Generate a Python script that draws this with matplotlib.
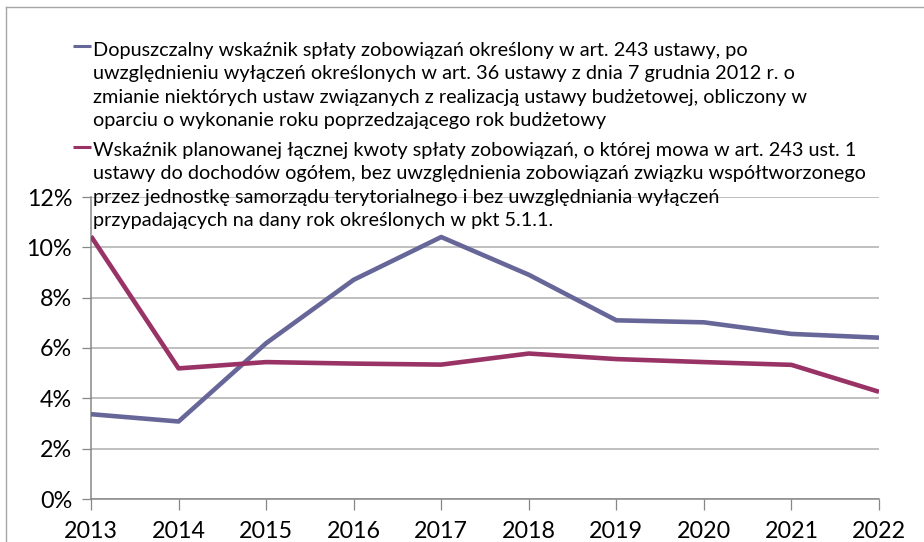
import matplotlib
matplotlib.use('Agg')
import matplotlib.pyplot as plt
from matplotlib.lines import Line2D
from matplotlib.ticker import FuncFormatter, MultipleLocator

# ---- data ----
years = [2013, 2014, 2015, 2016, 2017, 2018, 2019, 2020, 2021, 2022]
limit_pct = [3.37, 3.08, 6.19, 8.71, 10.41, 8.91, 7.10, 7.02, 6.56, 6.41]
planned_pct = [10.44, 5.19, 5.44, 5.38, 5.34, 5.78, 5.56, 5.44, 5.33, 4.26]

legend1_lines = [
    "Dopuszczalny wskaźnik spłaty zobowiązań określony w art. 243 ustawy, po",
    "uwzględnieniu wyłączeń określonych w art. 36 ustawy z dnia 7 grudnia 2012 r. o",
    "zmianie niektórych ustaw związanych z realizacją ustawy budżetowej, obliczony w",
    "oparciu o wykonanie roku poprzedzającego rok budżetowy",
]
legend2_lines = [
    "Wskaźnik planowanej łącznej kwoty spłaty zobowiązań, o której mowa w art. 243 ust. 1",
    "ustawy do dochodów ogółem, bez uwzględnienia zobowiązań związku współtworzonego",
    "przez jednostkę samorządu terytorialnego i bez uwzględniania wyłączeń",
    "przypadających na dany rok określonych w pkt 5.1.1.",
]

color_limit = "#666699"
color_planned = "#993366"

plt.rcParams['font.family'] = ['Lato', 'DejaVu Sans']

W, H = 924, 542
fig = plt.figure(figsize=(W / 100, H / 100), dpi=100)
fig.patch.set_facecolor('white')


def fx(x):
    return x / W


def fy(y):
    return 1 - y / H


renderer = fig.canvas.get_renderer()


def fit_size(text, target_px, base=10):
    t = fig.text(0, 0, text, fontsize=base)
    w = t.get_window_extent(renderer).width
    t.remove()
    return base * target_px / w


legend_fs = fit_size(legend2_lines[0], 766)
tick_fs = fit_size("2013", 54)

# outer chart frame (left and top edges visible)
fig.add_artist(Line2D([fx(6), fx(6)], [fy(7), 0], transform=fig.transFigure,
                      color="#A6A6A6", lw=1.0))
fig.add_artist(Line2D([fx(6), 1], [fy(7), fy(7)], transform=fig.transFigure,
                      color="#A6A6A6", lw=1.0))

ax = fig.add_axes([fx(91), fy(499), (879 - 91) / W, (499 - 197) / H])
ax.plot(years, limit_pct, color=color_limit, lw=3.3, solid_capstyle='butt', zorder=3)
ax.plot(years, planned_pct, color=color_planned, lw=3.3, solid_capstyle='butt', zorder=3)

ax.set_xlim(2013, 2022)
ax.set_ylim(0, 12)
ax.set_xticks(years)
ax.set_xticklabels([str(y) for y in years])
ax.yaxis.set_major_locator(MultipleLocator(2))
ax.yaxis.set_major_formatter(FuncFormatter(lambda v, p: f"{int(round(v))}%"))
ax.grid(axis='y', color="#ADADAD", lw=1.1)
ax.set_axisbelow(True)
for s in ['top', 'right']:
    ax.spines[s].set_visible(False)
for s in ['left', 'bottom']:
    ax.spines[s].set_color("#878787")
    ax.spines[s].set_linewidth(1.1)
ax.tick_params(axis='y', length=6.5, width=0.9, color="#878787", pad=7,
               labelsize=tick_fs, labelcolor='black')
ax.tick_params(axis='x', length=8, width=0.9, color="#878787", pad=8,
               labelsize=tick_fs, labelcolor='black')
ax.set_facecolor('none')

# legend (manual, handle aligned with first line)
baselines1 = [56, 79.4, 102.8, 126.2]
baselines2 = [156, 179.4, 202.8, 226.2]
for lines, bls, col, hy in [(legend1_lines, baselines1, color_limit, 45.7),
                            (legend2_lines, baselines2, color_planned, 147.3)]:
    fig.add_artist(Line2D([fx(73), fx(91)], [fy(hy), fy(hy)], transform=fig.transFigure,
                          color=col, lw=2.2, solid_capstyle='butt'))
    for line, b in zip(lines, bls):
        fig.text(fx(93), fy(b), line, fontsize=legend_fs, va='baseline', ha='left',
                 color='black', zorder=5)

fig.savefig("out.png", dpi=100)
